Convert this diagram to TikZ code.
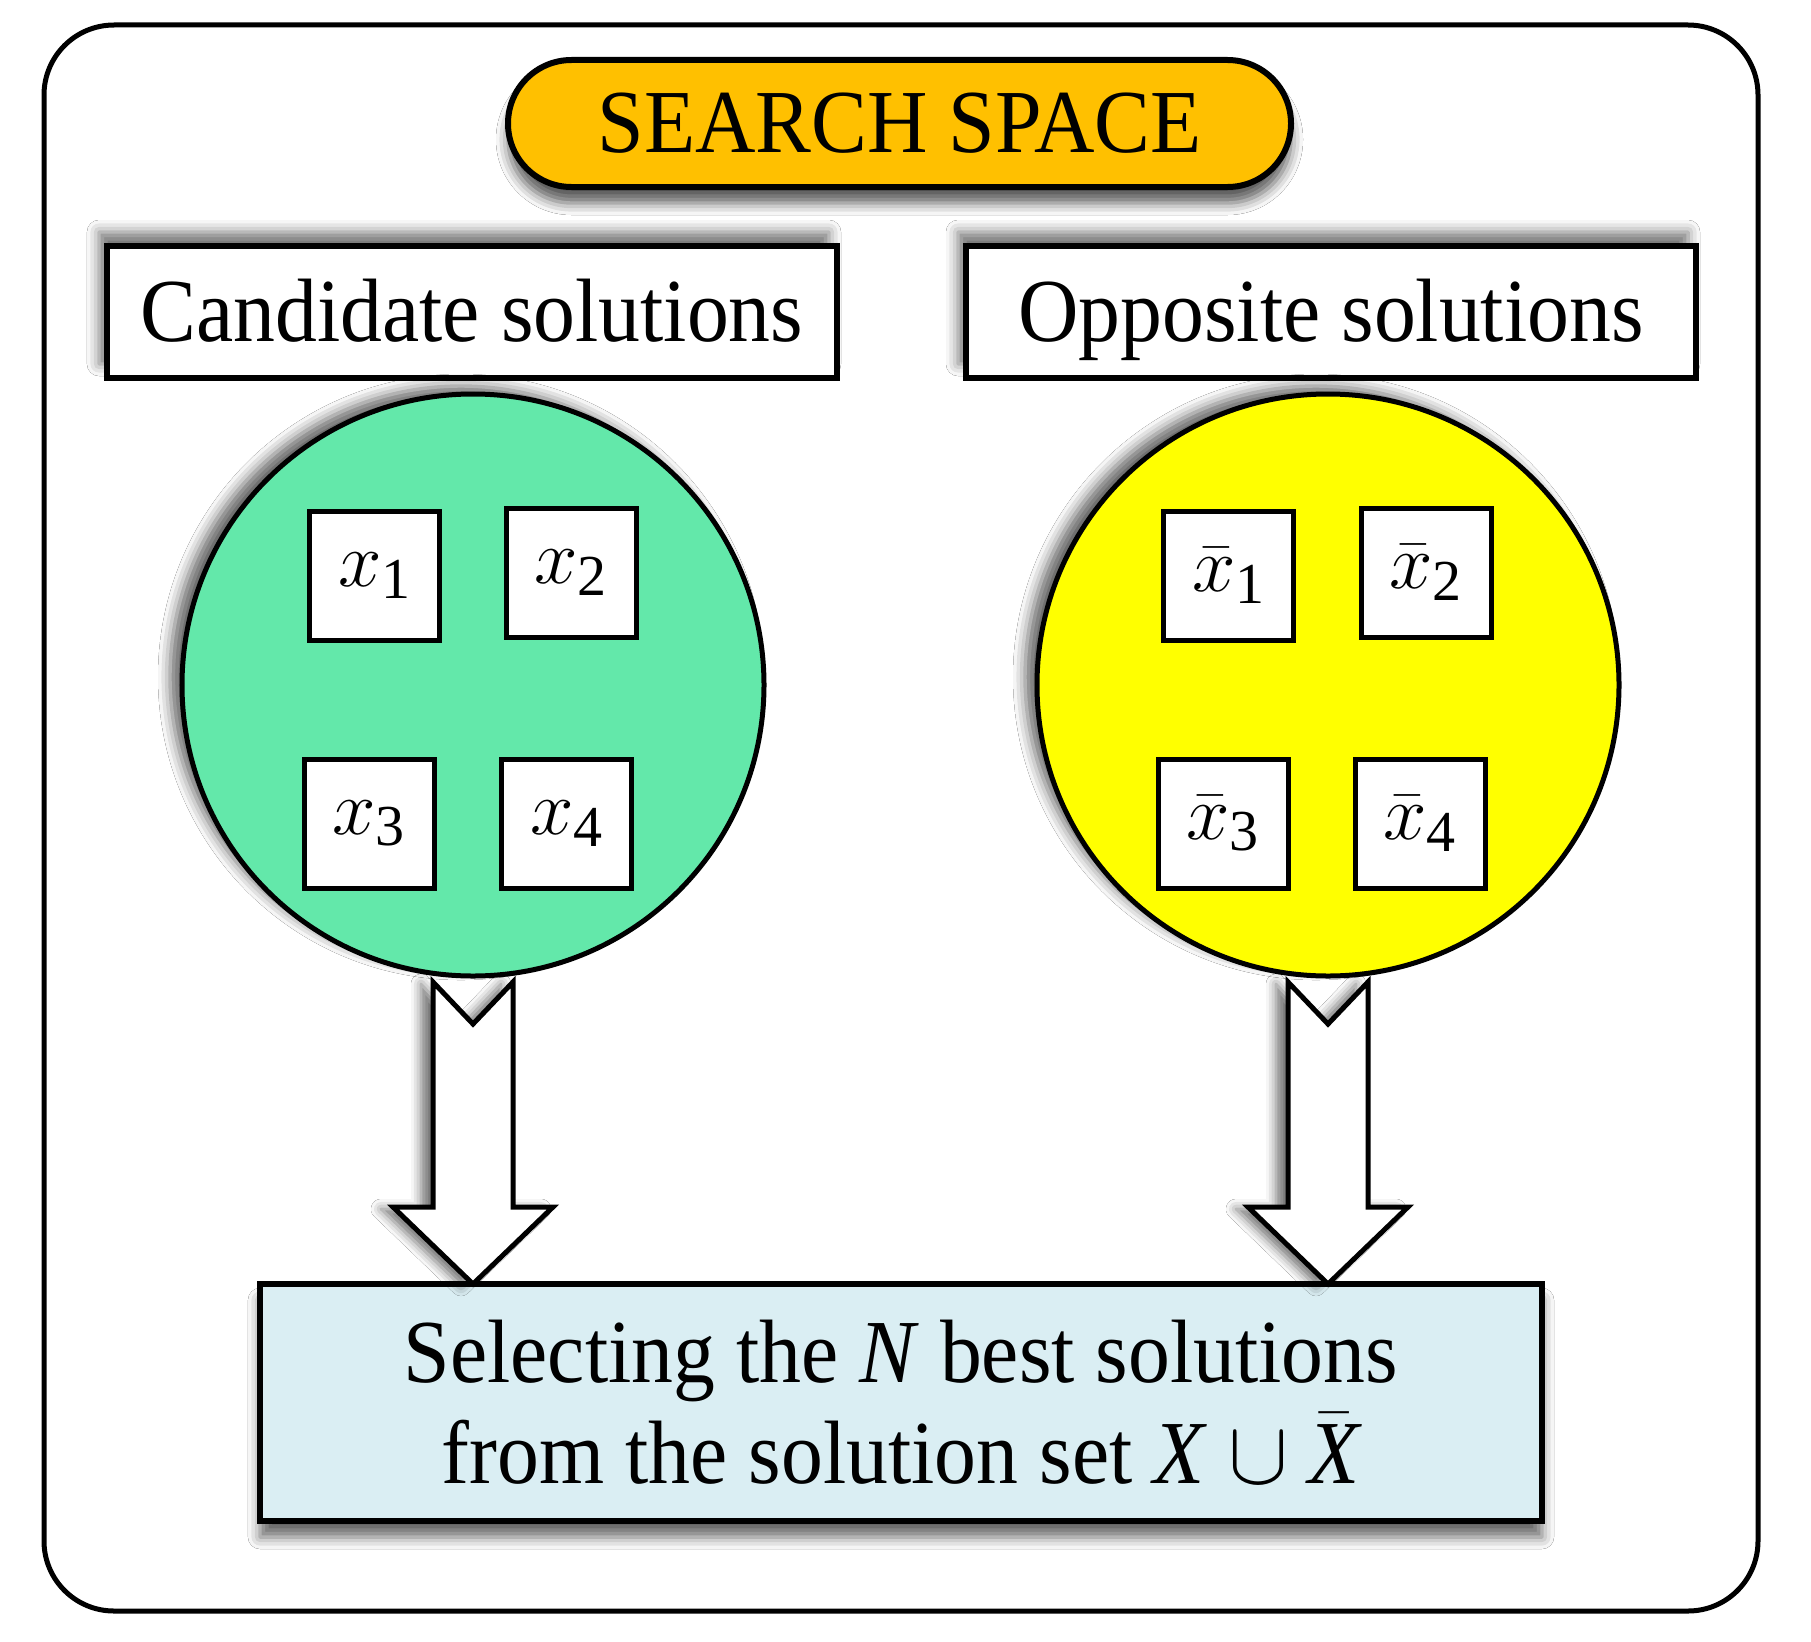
\RequirePackage{fix-cm}
\documentclass[tikz,border=0pt]{standalone}
\usepackage{fontspec}
\setmainfont{Liberation Serif}
\newfontfamily\cond[FakeStretch=0.93]{Liberation Serif}
\usetikzlibrary{shapes.misc,calc,shadows.blur}
\definecolor{pillorange}{HTML}{FFC000}
\definecolor{candgreen}{HTML}{63E8AA}
\definecolor{oppyellow}{HTML}{FFFF00}
\definecolor{selblue}{HTML}{DAEEF3}
\newcommand{\idx}[1]{\hbox{\fontsize{58bp}{60bp}\selectfont #1}}
\tikzset{
  every node/.style={inner sep=0pt, outer sep=0pt},
  bigtext/.style={font=\cond\fontsize{90bp}{101bp}\selectfont},
  titlepill/.style={rounded rectangle, draw, line width=6bp, fill=pillorange,
     minimum width=783bp, minimum height=127bp, bigtext, text height=60bp, text depth=2bp},
  headbox/.style={rectangle, draw, line width=5.5bp, fill=white,
     minimum width=730bp, minimum height=132bp, bigtext, text height=60bp, text depth=2bp},
  setcircle/.style={circle, draw, line width=5bp, minimum size=582bp},
  elembox/.style={rectangle, draw, line width=5bp, fill=white,
     minimum width=130bp, minimum height=129bp, font=\fontsize{78bp}{80bp}\selectfont},
  selbox/.style={rectangle, draw, line width=5.5bp, fill=selblue,
     minimum width=1282bp, minimum height=237bp, align=center, bigtext},
  blockarrow/.style={draw, line width=5bp, fill=white, line join=miter},
}
\begin{document}
\begin{tikzpicture}[x=1bp,y=-1bp]
\useasboundingbox (0,0) rectangle (1811,1642);
\fill[white] (0,0) rectangle (1811,1642);
\draw[line width=5bp, rounded corners=70bp] (44,25) rectangle (1758,1611);

\node[titlepill, blur shadow={shadow xshift=0bp, shadow yshift=-16bp, shadow blur radius=12bp, shadow opacity=65}] (title) at (899.5,123.5) {SEARCH SPACE};

\node[headbox, blur shadow={shadow xshift=-8bp, shadow yshift=14bp, shadow blur radius=12bp, shadow opacity=55}] (cand) at (472,312) {Candidate solutions};
\node[headbox, blur shadow={shadow xshift=-8bp, shadow yshift=14bp, shadow blur radius=12bp, shadow opacity=55}] (opp) at (1331,312) {Opposite solutions};

\node[setcircle, fill=candgreen, blur shadow={shadow xshift=-12bp, shadow yshift=8bp, shadow blur radius=12bp, shadow opacity=60}] (gc) at (473,685) {};
\node[setcircle, fill=oppyellow, blur shadow={shadow xshift=-12bp, shadow yshift=8bp, shadow blur radius=12bp, shadow opacity=60}] (yc) at (1328,685) {};

\node[elembox] (x1) at ($(gc)+(-98.5,-109)$) {$x_{\idx{1}}$};
\node[elembox] (x2) at ($(gc)+(98,-112)$) {$x_{\idx{2}}$};
\node[elembox] (x3) at ($(gc)+(-104,138.5)$) {$x_{\idx{3}}$};
\node[elembox] (x4) at ($(gc)+(93.5,138.5)$) {$x_{\idx{4}}$};

\node[elembox] (xb1) at ($(yc)+(-99.5,-109)$) {$\bar{x}_{\idx{1}}$};
\node[elembox] (xb2) at ($(yc)+(98,-112)$) {$\bar{x}_{\idx{2}}$};
\node[elembox] (xb3) at ($(yc)+(-105,138.5)$) {$\bar{x}_{\idx{3}}$};
\node[elembox] (xb4) at ($(yc)+(92,138.5)$) {$\bar{x}_{\idx{4}}$};

\node[selbox, blur shadow={shadow xshift=0bp, shadow yshift=-16bp, shadow blur radius=12bp, shadow opacity=60}] (sel) at (901,1402.5)
  {Selecting the \textit{N} best solutions\\from the solution set \textit{X} $\cup$ $\bar{\textit{X}}$};

\coordinate (a1top) at ($(gc.south)+(0,6)$);
\coordinate (a1tip) at (gc.south |- sel.north);
\coordinate (a2top) at ($(yc.south)+(0,6)$);
\coordinate (a2tip) at (yc.south |- sel.north);

\foreach \t/\p in {a1top/a1tip, a2top/a2tip} {
  \draw[blockarrow, blur shadow={shadow xshift=-12bp, shadow yshift=-2bp, shadow blur radius=10bp, shadow opacity=55}]
    ($(\t)+(-40,0)$) -- ($(\t)+(0,42)$) -- ($(\t)+(40,0)$) -- ($(\p)+(40,-77)$)
    -- ($(\p)+(80,-77)$) -- (\p) -- ($(\p)+(-80,-77)$) -- ($(\p)+(-40,-77)$) -- cycle;
}
\end{tikzpicture}
\end{document}
